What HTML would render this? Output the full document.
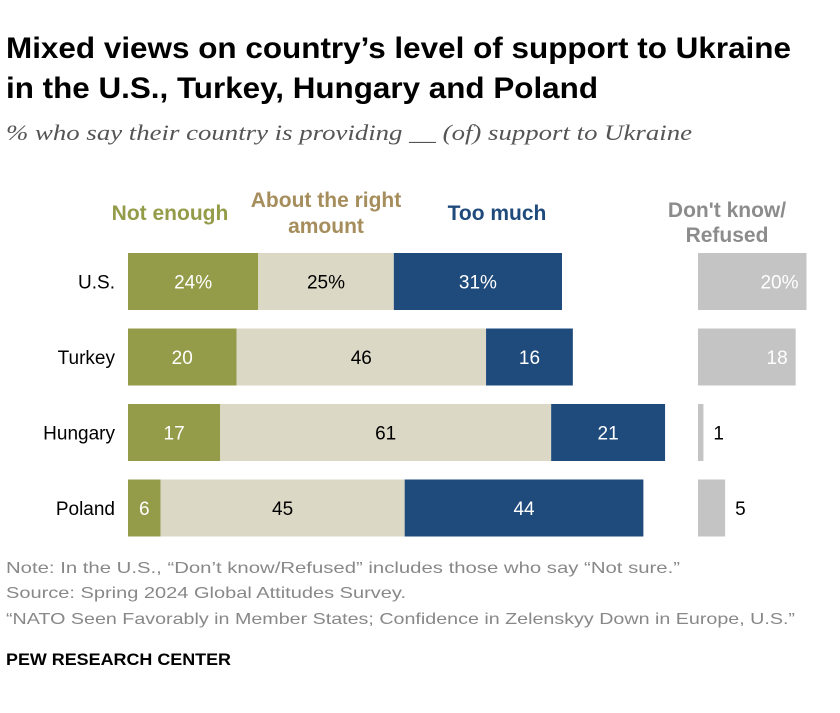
<!DOCTYPE html>
<html><head><meta charset="utf-8"><style>
body{margin:0;background:#fff;width:840px;height:708px;overflow:hidden;font-family:"Liberation Sans",sans-serif}
svg text{font-family:"Liberation Sans",sans-serif}
.hd{font-family:"Liberation Sans Narrow","Liberation Sans",sans-serif;font-weight:bold;font-size:21px}
</style></head><body>
<svg id="chart" width="840" height="708" xmlns="http://www.w3.org/2000/svg">
<text x="6" y="58" font-size="30" font-weight="bold" fill="#000" textLength="785" lengthAdjust="spacingAndGlyphs">Mixed views on country’s level of support to Ukraine</text>
<text x="6" y="98" font-size="30" font-weight="bold" fill="#000" textLength="592" lengthAdjust="spacingAndGlyphs">in the U.S., Turkey, Hungary and Poland</text>
<text x="6" y="140" font-size="22" font-style="italic" fill="#555" textLength="686" lengthAdjust="spacingAndGlyphs" style="font-family:'Liberation Serif',serif">% who say their country is providing __ (of) support to Ukraine</text>
<text class="hd" x="170" y="220" text-anchor="middle" fill="#949c4a">Not enough</text>
<text class="hd" x="326" y="207" text-anchor="middle" fill="#a68d5c">About the right</text>
<text class="hd" x="326" y="233" text-anchor="middle" fill="#a68d5c">amount</text>
<text class="hd" x="497" y="220" text-anchor="middle" fill="#1f4a7c">Too much</text>
<text class="hd" x="727" y="217" text-anchor="middle" fill="#8c8c8c">Don't know/</text>
<text class="hd" x="727" y="242" text-anchor="middle" fill="#8c8c8c">Refused</text>
<g id="bars"></g>
<text x="6" y="573" font-size="16" fill="#888" textLength="674" lengthAdjust="spacingAndGlyphs">Note: In the U.S., “Don’t know/Refused” includes those who say “Not sure.”</text>
<text x="6" y="598" font-size="16" fill="#888" textLength="400" lengthAdjust="spacingAndGlyphs">Source: Spring 2024 Global Attitudes Survey.</text>
<text x="6" y="624" font-size="16" fill="#888" textLength="789" lengthAdjust="spacingAndGlyphs">“NATO Seen Favorably in Member States; Confidence in Zelenskyy Down in Europe, U.S.”</text>
<text x="6" y="665" font-size="17" font-weight="bold" fill="#000" textLength="225" lengthAdjust="spacingAndGlyphs">PEW RESEARCH CENTER</text>
</svg>
<script>
const countries=["U.S.","Turkey","Hungary","Poland"];
const notEnough=[24,20,17,6];
const aboutRight=[25,46,61,45];
const tooMuch=[31,16,21,44];
const dontKnow=[20,18,1,5];
const pct=[true,false,false,false];
const NS="http://www.w3.org/2000/svg";
const g=document.getElementById('bars');
const scale=5.425, x0=128, dx0=698;
const yTop=i=>253+i*75.5, bh=57;
function rect(x,y,w,h,fill,name){const r=document.createElementNS(NS,'rect');
r.setAttribute('x',x);r.setAttribute('y',y);r.setAttribute('width',w);r.setAttribute('height',h);r.setAttribute('fill',fill);


g.appendChild(r);}
function txt(x,y,s,fill,anchor,name,size){const t=document.createElementNS(NS,'text');
t.setAttribute('x',x);t.setAttribute('y',y);t.setAttribute('fill',fill);t.setAttribute('text-anchor',anchor);t.setAttribute('font-size',size||19);t.textContent=s;


g.appendChild(t);}
countries.forEach((c,i)=>{
 const y=yTop(i), cy=y+bh/2+7;
 txt(115,cy,c,'#000','end','country-label',19);
 const segs=[[notEnough[i],'#949c4a','#fff','not-enough'],[aboutRight[i],'#dcd8c6','#000','about-right'],[tooMuch[i],'#1f4a7c','#fff','too-much']];
 let x=x0;
 segs.forEach(([v,f,tc,n])=>{const w=v*scale;rect(x,y,w,bh,f,'bar-'+n);
  txt(x+w/2,cy,v+(pct[i]?'%':''),tc,'middle','value-'+n);x+=w;});
 const dw=dontKnow[i]*scale;
 rect(dx0,y,dw,bh,'#c4c4c4','bar-dont-know');
 const s=dontKnow[i]+(pct[i]?'%':'');
 if(dontKnow[i]>=10) txt(dx0+dw-8,cy,s,'#fff','end','value-dont-know');
 else txt(dx0+dw+10,cy,s,'#000','start','value-dont-know');
});
</script>
</body></html>
